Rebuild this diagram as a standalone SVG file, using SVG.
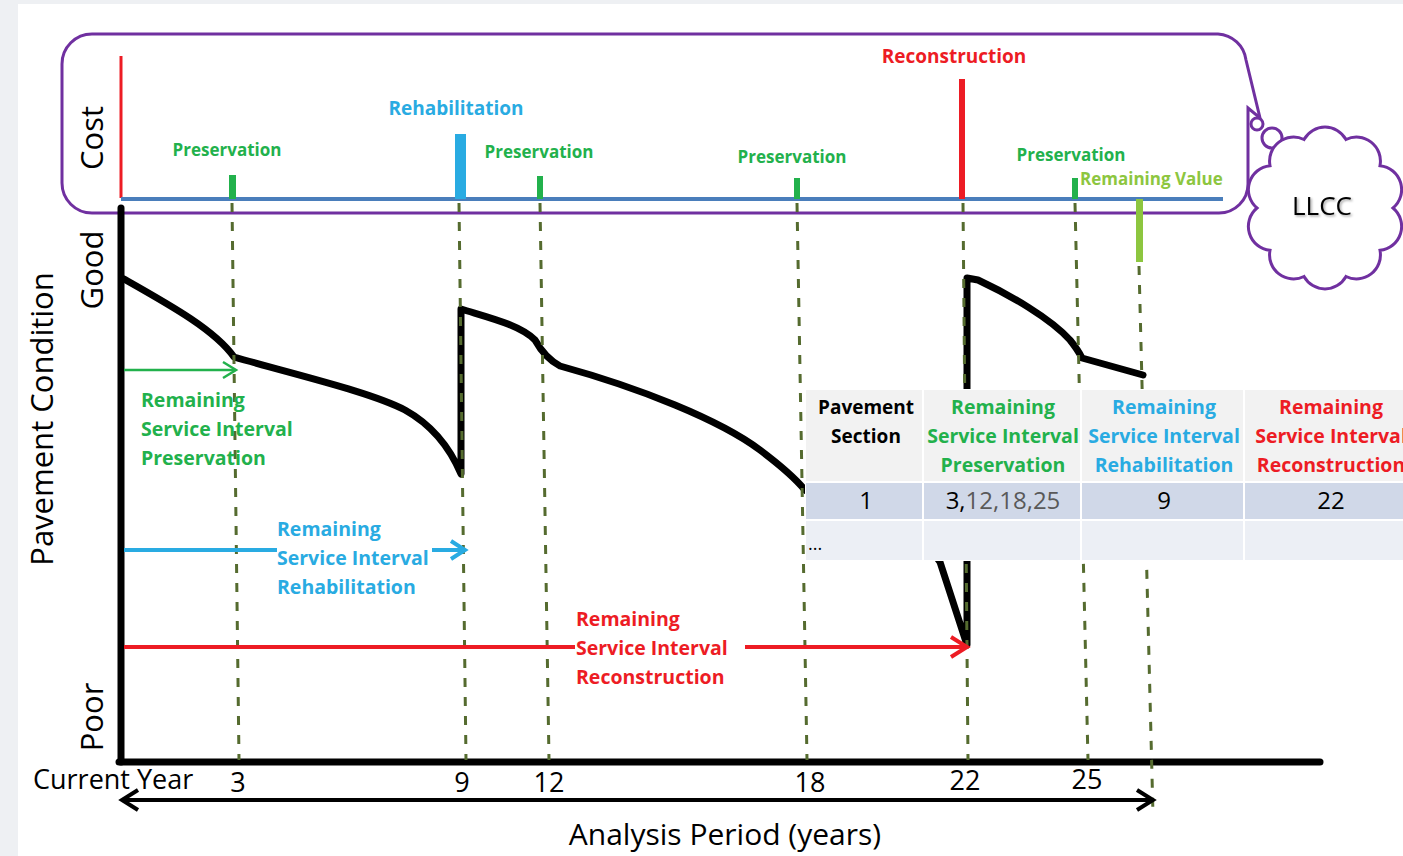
<svg xmlns="http://www.w3.org/2000/svg" width="1403" height="856" viewBox="0 0 1403 856">
<defs>
<style>
.t{font-family:"Open Sans","Noto Sans","Liberation Sans",sans-serif}
.b{font-weight:700}
.g{fill:#22b14c}.bl{fill:#29abe2}.r{fill:#ed1c24}.lg{fill:#8dc63f}.k{fill:#000}
.dash{stroke:#556b2f;stroke-width:3;stroke-dasharray:9 10;fill:none}
.cur{fill:none;stroke:#000;stroke-width:7;stroke-linejoin:round;stroke-linecap:round}
.purple{fill:none;stroke:#7030a0;stroke-width:3}
</style>
<filter id="sh" x="-20%" y="-20%" width="140%" height="140%"><feDropShadow dx="1.5" dy="1.5" stdDeviation="1" flood-color="#000" flood-opacity="0.35"/></filter>
</defs>
<rect x="0" y="0" width="1403" height="856" fill="#eef0f3"/>
<rect x="18" y="4" width="1385" height="852" fill="#ffffff"/>

<g id="cost-box">
<path class="purple" d="M92,34 H1218 A30,30 0 0 1 1246,60 L1260,118 L1248,108 V184 A29,29 0 0 1 1219,213 H92 A30,30 0 0 1 62,183 V64 A30,30 0 0 1 92,34 Z"/>
</g>

<g id="llcc-cloud">
<circle cx="1257" cy="124" r="6" fill="#fff" stroke="#7030a0" stroke-width="3"/>
<circle cx="1272" cy="138" r="10" fill="#fff" stroke="#7030a0" stroke-width="3"/>
<path fill="#fff" stroke="#7030a0" stroke-width="3" d="M1304,139.5 A24,24 0 0 1 1346,139.5 A24,24 0 0 1 1380,165.7 A24,24 0 0 1 1393,208 A24,24 0 0 1 1380,250.3 A24,24 0 0 1 1346,276.5 A24,24 0 0 1 1304,276.5 A24,24 0 0 1 1270,250.3 A24,24 0 0 1 1257,208 A24,24 0 0 1 1270,165.7 A24,24 0 0 1 1304,139.5 Z"/>
<text class="t k" x="1322" y="215" font-size="26" text-anchor="middle" filter="url(#sh)">LLCC</text>
</g>

<g id="axes">
<line x1="121" y1="56" x2="121" y2="198" stroke="#ed1c24" stroke-width="3"/>
<line x1="121" y1="199" x2="1223" y2="199" stroke="#4a7ebb" stroke-width="4"/>
<line x1="121" y1="208" x2="121" y2="762" stroke="#000" stroke-width="7" stroke-linecap="round"/>
<line x1="119" y1="762" x2="1320" y2="762" stroke="#000" stroke-width="7" stroke-linecap="round"/>
<text class="t k" font-size="31" text-anchor="middle" transform="translate(103,138) rotate(-90)">Cost</text>
<text class="t k" font-size="31" text-anchor="middle" transform="translate(103,270) rotate(-90)">Good</text>
<text class="t k" font-size="31" text-anchor="middle" transform="translate(103,717) rotate(-90)">Poor</text>
<text class="t k" font-size="31" text-anchor="middle" transform="translate(53,419) rotate(-90)">Pavement Condition</text>
</g>

<g id="cost-bars">
<rect x="229" y="175" width="7" height="24" fill="#22b14c"/>
<rect x="455" y="134" width="11" height="65" fill="#29abe2"/>
<rect x="537" y="176" width="6" height="23" fill="#22b14c"/>
<rect x="794" y="178" width="6" height="21" fill="#22b14c"/>
<rect x="959" y="79" width="6" height="120" fill="#ed1c24"/>
<rect x="1072" y="178" width="6" height="21" fill="#22b14c"/>
<rect x="1136" y="199" width="7" height="63" fill="#8dc63f"/>
<text class="t b g" x="227" y="156" font-size="17">
<tspan text-anchor="middle">Preservation</tspan></text>
<text class="t b bl" x="456" y="115" font-size="19" text-anchor="middle">Rehabilitation</text>
<text class="t b g" x="539" y="158" font-size="17" text-anchor="middle">Preservation</text>
<text class="t b g" x="792" y="163" font-size="17" text-anchor="middle">Preservation</text>
<text class="t b r" x="954" y="63" font-size="19" text-anchor="middle">Reconstruction</text>
<text class="t b g" x="1071" y="161" font-size="17" text-anchor="middle">Preservation</text>
<text class="t b lg" x="1080" y="185" font-size="17">Remaining Value</text>
</g>

<g id="condition-curve">
<path class="cur" d="M124,279 C170,305 215,330 234,357 C300,376 370,392 405,410 C432,425 450,448 461,474 L461,309 C490,318 520,325 535,340 Q545,358 560,366 C640,388 720,420 760,450 C780,465 795,478 805,490 C860,525 925,535 940,562 L967,645 L967,278 L978,280 C1010,295 1050,318 1070,340 Q1078,350 1082,358 L1143,375"/>
</g>

<g id="connectors">
<line class="dash" x1="232" y1="203" x2="239" y2="760"/>
<line class="dash" x1="459" y1="203" x2="466" y2="760"/>
<line class="dash" x1="540" y1="203" x2="549" y2="760"/>
<line class="dash" x1="797" y1="203" x2="807" y2="760"/>
<line class="dash" x1="963" y1="203" x2="968" y2="760"/>
<line class="dash" x1="1075" y1="203" x2="1088" y2="760"/>
<line class="dash" x1="1139" y1="266" x2="1153" y2="815"/>
<g fill="none" stroke="#22b14c" stroke-width="2.5">
<line x1="124" y1="370" x2="235" y2="370"/>
<polyline points="223,362 236,370 223,378"/>
</g>
<g fill="none" stroke="#29abe2" stroke-width="4">
<line x1="124" y1="550" x2="277" y2="550"/>
<line x1="432" y1="550" x2="464" y2="550"/>
<polyline points="451,541 465,550 451,559"/>
</g>
<g fill="none" stroke="#ed1c24" stroke-width="4">
<line x1="124" y1="647" x2="575" y2="647"/>
<line x1="745" y1="647" x2="966" y2="647"/>
<polyline points="951,637 967,647 951,657"/>
</g>
<g fill="none" stroke="#000" stroke-width="4">
<line x1="122" y1="800" x2="1152" y2="800"/>
<polyline points="138,790 122,800 138,810"/>
<polyline points="1137,790 1153,800 1137,810"/>
</g>
</g>

<g id="label-preservation">
<text class="t b g" x="141" y="407" font-size="19.5">Remaining</text>
<text class="t b g" x="141" y="436" font-size="19.5">Service Interval</text>
<text class="t b g" x="141" y="465" font-size="19.5">Preservation</text>
</g>
<g id="label-rehabilitation">
<text class="t b bl" x="277" y="536" font-size="19.5">Remaining</text>
<text class="t b bl" x="277" y="565" font-size="19.5">Service Interval</text>
<text class="t b bl" x="277" y="594" font-size="19.5">Rehabilitation</text>
</g>
<g id="label-reconstruction">
<text class="t b r" x="576" y="626" font-size="19.5">Remaining</text>
<text class="t b r" x="576" y="655" font-size="19.5">Service Interval</text>
<text class="t b r" x="576" y="684" font-size="19.5">Reconstruction</text>
</g>

<g id="table">
<rect x="805" y="389" width="598" height="172" fill="#ffffff"/>
<rect x="806" y="390" width="116" height="91" fill="#f2f2f2"/>
<rect x="924" y="390" width="156" height="91" fill="#f2f2f2"/>
<rect x="1082" y="390" width="161" height="91" fill="#f2f2f2"/>
<rect x="1245" y="390" width="158" height="91" fill="#f2f2f2"/>
<rect x="806" y="483" width="116" height="36" fill="#d0d8e8"/>
<rect x="924" y="483" width="156" height="36" fill="#d0d8e8"/>
<rect x="1082" y="483" width="161" height="36" fill="#d0d8e8"/>
<rect x="1245" y="483" width="158" height="36" fill="#d0d8e8"/>
<rect x="806" y="521" width="116" height="39" fill="#eceff5"/>
<rect x="924" y="521" width="156" height="39" fill="#eceff5"/>
<rect x="1082" y="521" width="161" height="39" fill="#eceff5"/>
<rect x="1245" y="521" width="158" height="39" fill="#eceff5"/>
<text class="t b k" x="866" y="414" font-size="19" text-anchor="middle">Pavement</text>
<text class="t b k" x="866" y="443" font-size="19" text-anchor="middle">Section</text>
<text class="t b g" x="1003" y="414" font-size="19.5" text-anchor="middle">Remaining</text>
<text class="t b g" x="1003" y="443" font-size="19.5" text-anchor="middle">Service Interval</text>
<text class="t b g" x="1003" y="472" font-size="19.5" text-anchor="middle">Preservation</text>
<text class="t b bl" x="1164" y="414" font-size="19.5" text-anchor="middle">Remaining</text>
<text class="t b bl" x="1164" y="443" font-size="19.5" text-anchor="middle">Service Interval</text>
<text class="t b bl" x="1164" y="472" font-size="19.5" text-anchor="middle">Rehabilitation</text>
<text class="t b r" x="1331" y="414" font-size="19.5" text-anchor="middle">Remaining</text>
<text class="t b r" x="1331" y="443" font-size="19.5" text-anchor="middle">Service Interval</text>
<text class="t b r" x="1331" y="472" font-size="19.5" text-anchor="middle">Reconstruction</text>
<text class="t k" x="866" y="509" font-size="24" text-anchor="middle">1</text>
<text class="t k" x="1003" y="509" font-size="24" text-anchor="middle">3,<tspan fill="#595959">12,18,25</tspan></text>
<text class="t k" x="1164" y="509" font-size="24" text-anchor="middle">9</text>
<text class="t k" x="1331" y="509" font-size="24" text-anchor="middle">22</text>
<text class="t k" x="808" y="550" font-size="18">...</text>
</g>

<g id="x-labels">
<text class="t k" x="33" y="789" font-size="27">Current Year</text>
<text class="t k" x="238" y="792" font-size="27" text-anchor="middle">3</text>
<text class="t k" x="462" y="792" font-size="27" text-anchor="middle">9</text>
<text class="t k" x="549" y="792" font-size="27" text-anchor="middle">12</text>
<text class="t k" x="810" y="792" font-size="27" text-anchor="middle">18</text>
<text class="t k" x="965" y="790" font-size="27" text-anchor="middle">22</text>
<text class="t k" x="1087" y="789" font-size="27" text-anchor="middle">25</text>
<text class="t k" x="725" y="845" font-size="30" text-anchor="middle">Analysis Period (years)</text>
</g>
</svg>
